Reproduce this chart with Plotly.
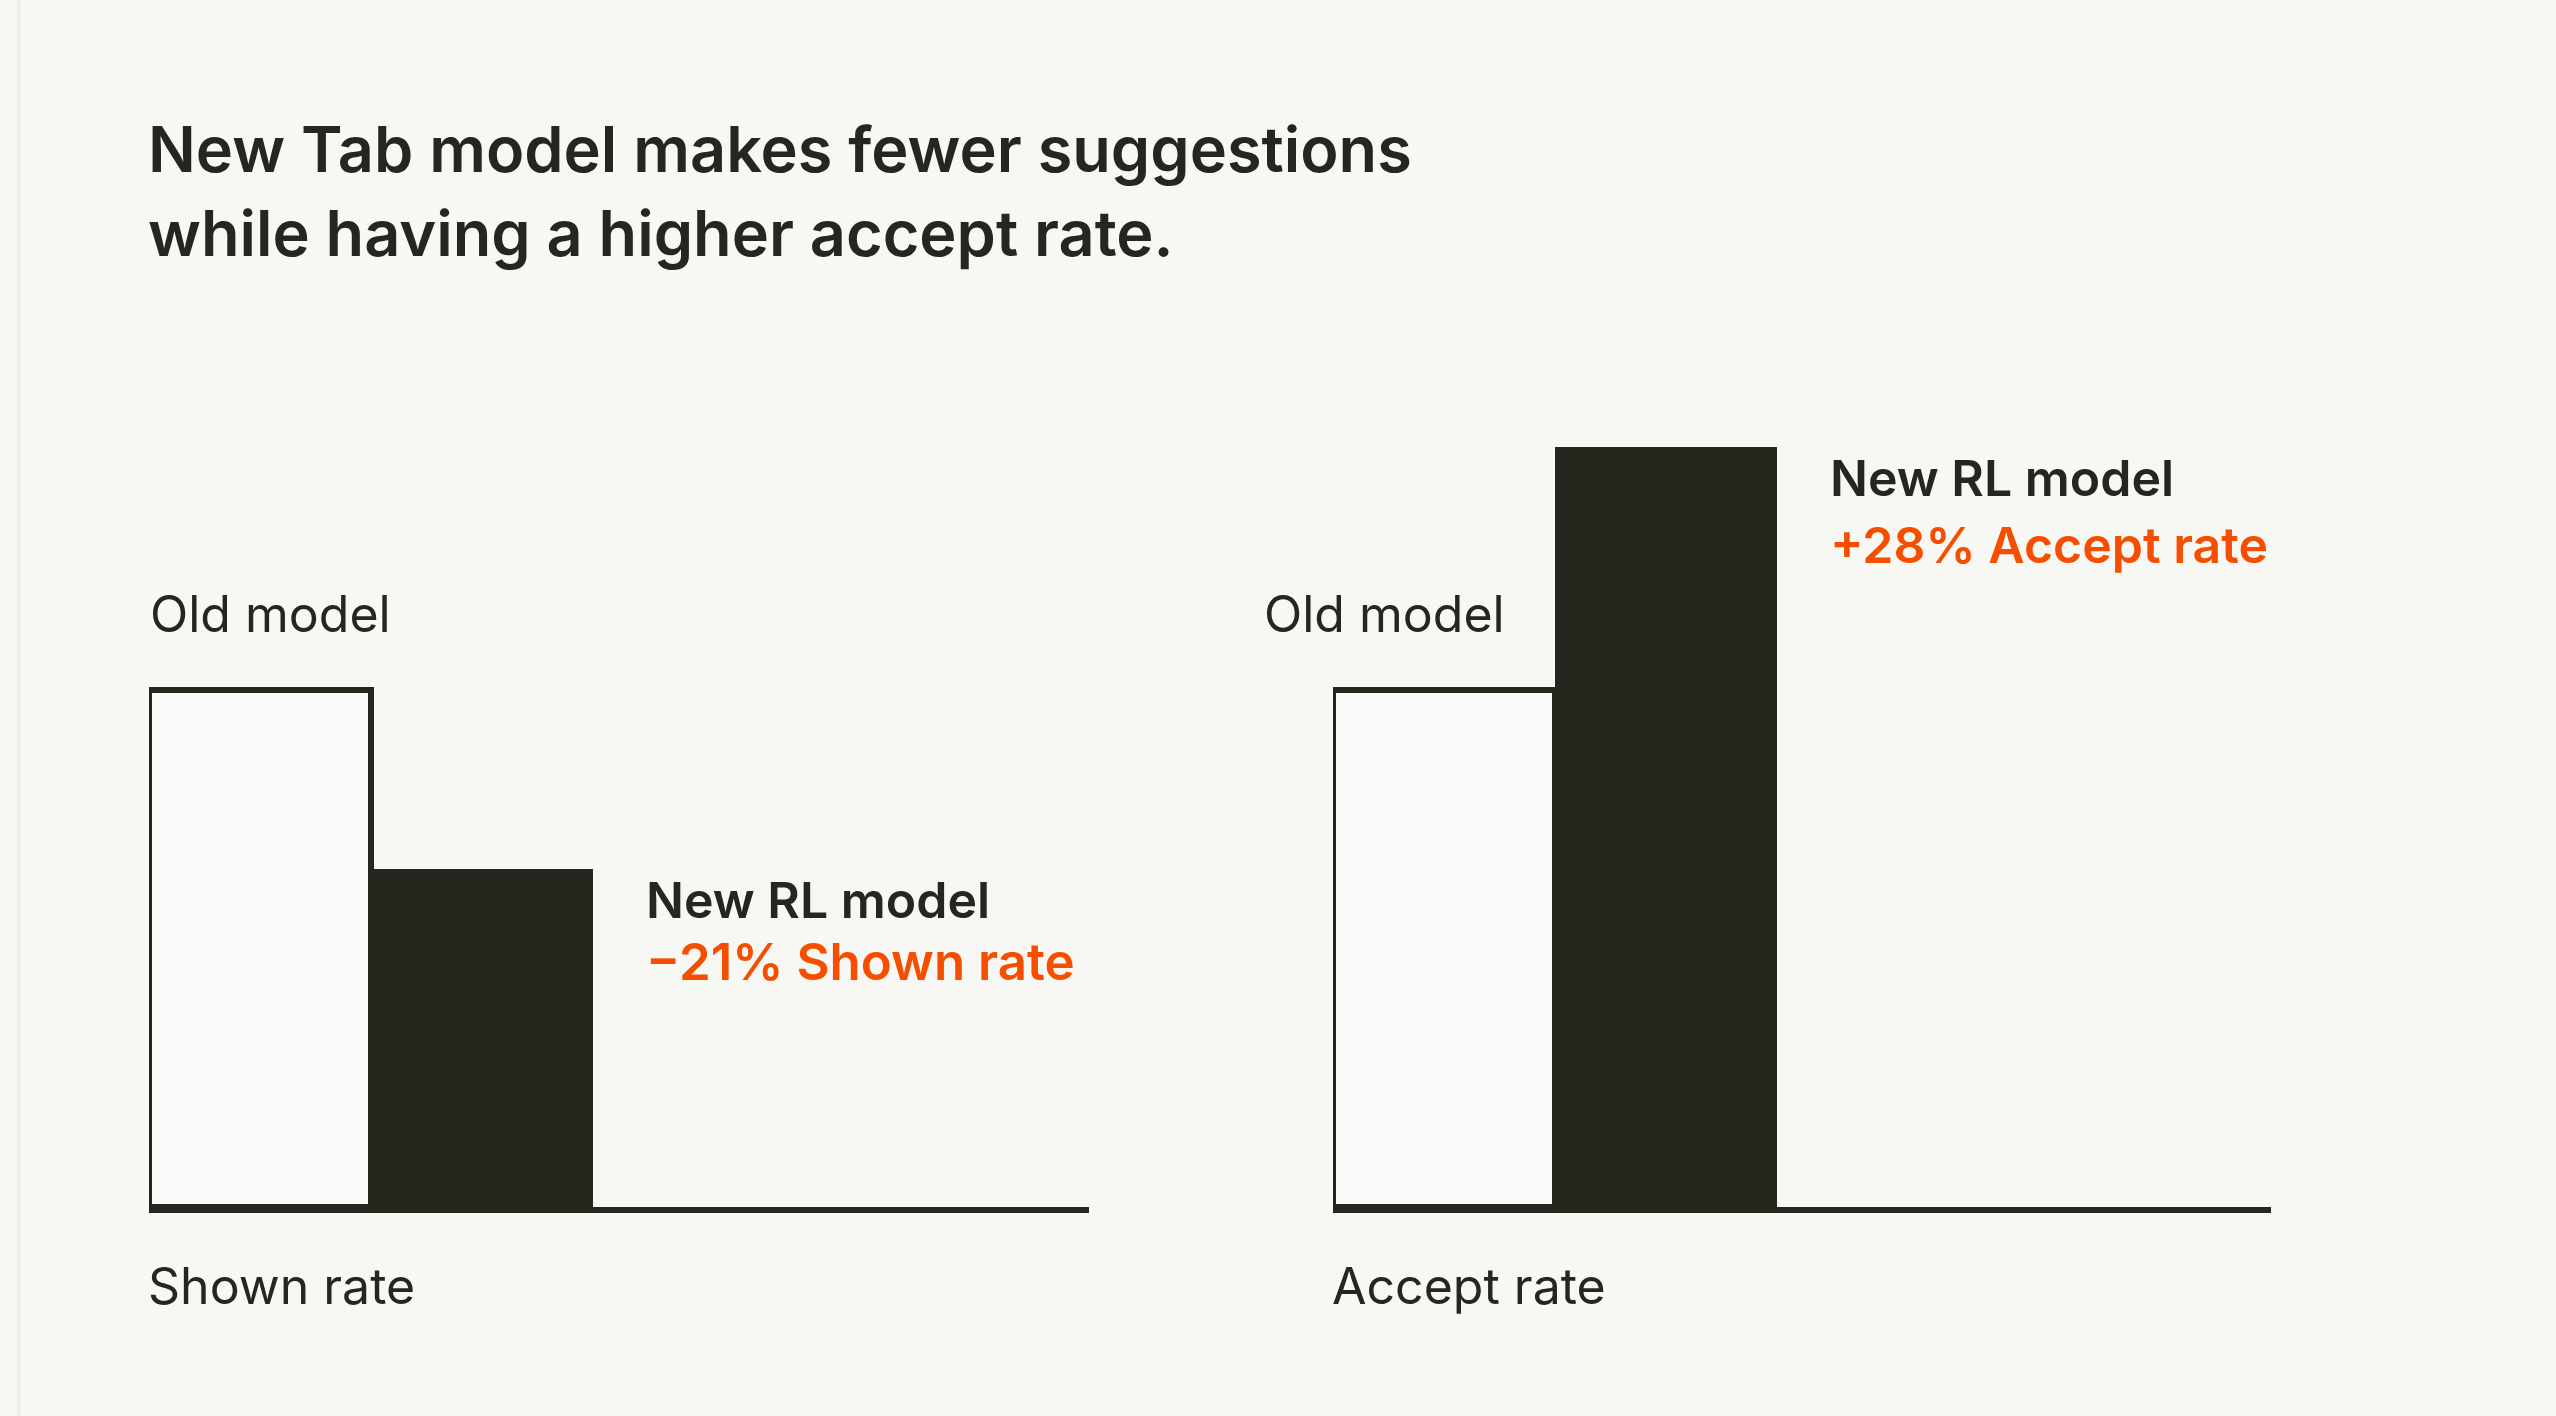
import plotly.graph_objects as go

# ---------------- data ----------------
categories = ["Old model", "New RL model"]
shown_rate = [100, 65.4]      # relative bar heights (old model = 100)
accept_rate = [100, 147.0]
shown_change = "−21% Shown rate"
accept_change = "+28% Accept rate"
title_lines = ["New Tab model makes fewer suggestions", "while having a higher accept rate."]
axis_titles = ["Shown rate", "Accept rate"]

# ---------------- style ----------------
W, H = 2556, 1416
BG = "#f7f7f4"
DARK = "#26251e"
OLD_FILL = "#f9f9f7"
ORANGE = "#f54e00"
FONT = "Inter"
BAR_PX = 222

def px_x(p):
    return p / W

def px_y(p):
    return 1 - p / H

fig = go.Figure()

panels = [
    dict(vals=shown_rate, x0=149, x1=1089, xa="x", ya="y"),
    dict(vals=accept_rate, x0=1333, x1=2271, xa="x2", ya="y2"),
]

y_bottom, y_top = 1207, 400
yrange = [0, (y_bottom - y_top) / 5.17]

for i, p in enumerate(panels):
    fig.add_trace(go.Bar(
        x=categories, y=p["vals"], xaxis=p["xa"], yaxis=p["ya"],
        marker=dict(color=[OLD_FILL, DARK],
                    line=dict(color=DARK, width=[6, 0])),
        width=1, hoverinfo="skip", showlegend=False,
    ))
    n_units = (p["x1"] - p["x0"]) / BAR_PX
    ax = dict(domain=[px_x(p["x0"]), px_x(p["x1"])], range=[-0.5, -0.5 + n_units],
              showgrid=False, zeroline=False, showticklabels=False, ticks="",
              showline=True, linewidth=6, linecolor=DARK, fixedrange=True)
    ay = dict(domain=[px_y(y_bottom), px_y(y_top)], range=yrange, visible=False,
              showgrid=False, zeroline=False, fixedrange=True)
    sfx = "" if i == 0 else "2"
    fig.layout["xaxis" + sfx] = ax
    fig.layout["yaxis" + sfx] = ay

annotations = []

def add_text(text, x, yc, size, color=DARK, weight=400, xanchor="left"):
    annotations.append(dict(
        text=text, x=px_x(x), y=px_y(yc), xref="paper", yref="paper",
        xanchor=xanchor, yanchor="middle", showarrow=False,
        font=dict(family=FONT, size=size, color=color, weight=weight),
    ))

# title
add_text(title_lines[0], 146, 149, 63, weight=600)
add_text(title_lines[1], 146, 233, 63, weight=600)

# panel 1
add_text(categories[0], 148, 614, 50)
add_text(categories[1], 644, 900, 50, weight=600)
add_text(shown_change, 644, 961, 51, color=ORANGE, weight=600)
add_text(axis_titles[0], 146, 1286, 50)

# panel 2
add_text(categories[0], 1507, 614, 50, xanchor="right")
add_text(categories[1], 1828, 478, 50, weight=600)
add_text(accept_change, 1828, 545, 50, color=ORANGE, weight=600)
add_text(axis_titles[1], 1330, 1286, 50)

fig.update_layout(
    width=W, height=H, margin=dict(l=0, r=0, t=0, b=0),
    paper_bgcolor=BG, plot_bgcolor=BG,
    bargap=0, annotations=annotations,
    shapes=[dict(type="line", xref="paper", yref="paper",
                 x0=px_x(19), x1=px_x(19), y0=0, y1=1,
                 line=dict(color="#ebebe7", width=3))],
    hovermode=False,
)

fig.write_html(
    "out.html",
    config={"displayModeBar": False},
    post_script="document.body.style.margin='0';document.body.style.overflow='hidden';"
                "document.body.style.background='" + BG + "';",
)
